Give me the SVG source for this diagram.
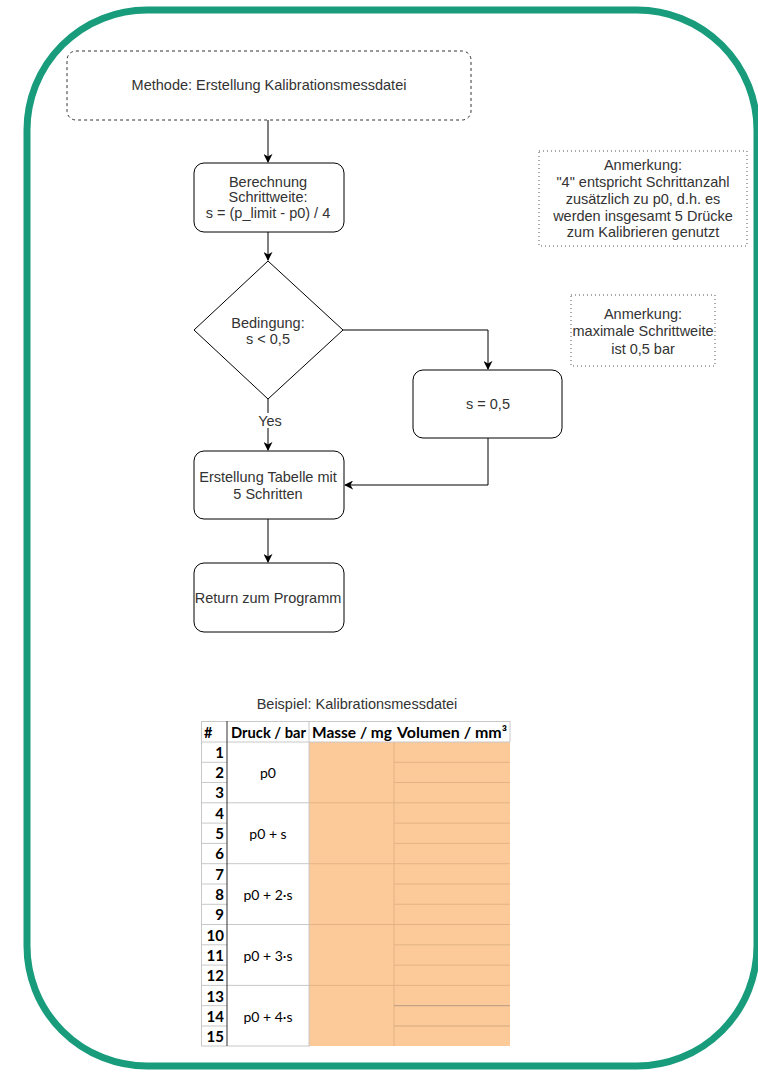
<svg xmlns="http://www.w3.org/2000/svg" width="758" height="1072" viewBox="0 0 758 1072">
  <style>
    .lbl { font-family: "Liberation Sans", Arial, sans-serif; font-size: 14.5px; fill: #333333; text-anchor: middle; }
    .box { fill: #ffffff; stroke: #000000; stroke-width: 1; }
    .note { fill: #ffffff; stroke: #555555; stroke-width: 1; stroke-dasharray: 1 3; }
    .edge { fill: none; stroke: #000000; stroke-width: 1; }
    .th { font-family: Lato, "Open Sans", sans-serif; font-size: 14.5px; font-weight: bold; fill: #000000; }
    .num { font-family: Lato, "Open Sans", sans-serif; font-size: 15px; font-weight: bold; fill: #000000; text-anchor: end; }
    .cell { font-family: Lato, "Open Sans", sans-serif; font-size: 14px; fill: #000000; text-anchor: middle; }
    .grid { stroke: #c8c8c8; stroke-width: 1; }
    .vgrid { stroke: #e2b485; stroke-width: 1; }
  </style>
  <defs>
    <marker id="arrow" viewBox="0 0 10 10" refX="9" refY="5" markerWidth="9" markerHeight="9" markerUnits="userSpaceOnUse" orient="auto">
      <path d="M0,0 L10,5 L0,10 L3,5 z" fill="#000000"/>
    </marker>
  </defs>

  <rect width="758" height="1072" fill="#ffffff"/>

  <!-- outer frame -->
  <rect id="frame" x="27" y="10" width="730" height="1056" rx="120" ry="120" fill="none" stroke="#189c7c" stroke-width="7"/>

  <!-- connectors -->
  <g id="connectors">
    <path class="edge" d="M268,120 L268,162" marker-end="url(#arrow)"/>
    <path class="edge" d="M268,232 L268,260" marker-end="url(#arrow)"/>
    <path class="edge" d="M343,330 L488,330 L488,369" marker-end="url(#arrow)"/>
    <path class="edge" d="M268,399 L268,450" marker-end="url(#arrow)"/>
    <path class="edge" d="M488,438 L488,485 L345,485" marker-end="url(#arrow)"/>
    <path class="edge" d="M268,519 L268,562" marker-end="url(#arrow)"/>
    <rect x="255" y="413" width="28" height="15" fill="#ffffff"/>
    <text class="lbl" x="270" y="426">Yes</text>
  </g>

  <g id="start">
    <rect x="67" y="51" width="404" height="69" rx="9" fill="#ffffff" stroke="#333333" stroke-dasharray="3 3"/>
    <text class="lbl" x="269" y="90">Methode: Erstellung Kalibrationsmessdatei</text>
  </g>

  <g id="calc">
    <rect class="box" x="194" y="163" width="150" height="69" rx="10"/>
    <text class="lbl" x="268" y="187">Berechnung</text>
    <text class="lbl" x="268" y="202">Schrittweite:</text>
    <text class="lbl" x="268" y="218">s = (p_limit - p0) / 4</text>
  </g>

  <g id="decision">
    <path class="box" d="M268,261 L343,330 L268,399 L194,330 Z"/>
    <text class="lbl" x="268" y="328">Bedingung:</text>
    <text class="lbl" x="268" y="344">s &lt; 0,5</text>
  </g>

  <g id="set-s">
    <rect class="box" x="413" y="370" width="149" height="68" rx="10"/>
    <text class="lbl" x="488" y="409">s = 0,5</text>
  </g>

  <g id="table-step">
    <rect class="box" x="194" y="451" width="150" height="68" rx="10"/>
    <text class="lbl" x="268" y="482">Erstellung Tabelle mit</text>
    <text class="lbl" x="268" y="499">5 Schritten</text>
  </g>

  <g id="return">
    <rect class="box" x="194" y="563" width="150" height="69" rx="10"/>
    <text class="lbl" x="268" y="603">Return zum Programm</text>
  </g>

  <g id="note-steps">
    <rect class="note" x="539" y="151" width="208" height="95"/>
    <text class="lbl" x="643" y="170">Anmerkung:</text>
    <text class="lbl" x="643" y="187">"4" entspricht Schrittanzahl</text>
    <text class="lbl" x="643" y="204">zusätzlich zu p0, d.h. es</text>
    <text class="lbl" x="643" y="221">werden insgesamt 5 Drücke</text>
    <text class="lbl" x="643" y="237">zum Kalibrieren genutzt</text>
  </g>

  <g id="note-max">
    <rect class="note" x="571" y="295" width="144" height="71"/>
    <text class="lbl" x="643" y="319">Anmerkung:</text>
    <text class="lbl" x="643" y="336">maximale Schrittweite</text>
    <text class="lbl" x="643" y="354">ist 0,5 bar</text>
  </g>

  <!-- example calibration file -->
  <g id="example">
    <text class="lbl" x="357" y="709">Beispiel: Kalibrationsmessdatei</text>

    <!-- fills -->
    <rect x="201" y="721" width="309" height="325" fill="#ffffff"/>
    <rect x="309" y="742" width="201" height="304" fill="#fcc998"/>

    <!-- volume column row lines -->
    <g class="vgrid">
      <line x1="394" y1="762.3" x2="510" y2="762.3"/>
      <line x1="394" y1="782.5" x2="510" y2="782.5"/>
      <line x1="394" y1="823.1" x2="510" y2="823.1"/>
      <line x1="394" y1="843.4" x2="510" y2="843.4"/>
      <line x1="394" y1="884" x2="510" y2="884"/>
      <line x1="394" y1="904.3" x2="510" y2="904.3"/>
      <line x1="394" y1="944.8" x2="510" y2="944.8"/>
      <line x1="394" y1="965.1" x2="510" y2="965.1"/>
      <line x1="309" y1="802.8" x2="510" y2="802.8"/>
      <line x1="309" y1="863.7" x2="510" y2="863.7"/>
      <line x1="309" y1="924.5" x2="510" y2="924.5"/>
      <line x1="309" y1="985.4" x2="510" y2="985.4"/>
      <line x1="394" y1="742" x2="394" y2="1046"/>
    </g>
    <line x1="394" y1="1005.7" x2="510" y2="1005.7" stroke="#b49a84"/>
    <line x1="394" y1="1026" x2="510" y2="1026" stroke="#d4aa80"/>

    <!-- grid lines -->
    <g class="grid">
      <line x1="201" y1="721.5" x2="510" y2="721.5"/>
      <line x1="201" y1="742" x2="510" y2="742"/>
      <line x1="201" y1="1046" x2="310" y2="1046"/>
      <line x1="201.5" y1="721" x2="201.5" y2="1046"/>
      <line x1="309" y1="721" x2="309" y2="1046"/>
      <line x1="510" y1="721" x2="510" y2="742"/>
      <line x1="227" y1="802.8" x2="309" y2="802.8"/>
      <line x1="227" y1="863.7" x2="309" y2="863.7"/>
      <line x1="227" y1="924.5" x2="309" y2="924.5"/>
      <line x1="227" y1="985.4" x2="309" y2="985.4"/>
      <line x1="201" y1="762.3" x2="227" y2="762.3"/>
      <line x1="201" y1="782.5" x2="227" y2="782.5"/>
      <line x1="201" y1="802.8" x2="227" y2="802.8"/>
      <line x1="201" y1="823.1" x2="227" y2="823.1"/>
      <line x1="201" y1="843.4" x2="227" y2="843.4"/>
      <line x1="201" y1="863.7" x2="227" y2="863.7"/>
      <line x1="201" y1="884" x2="227" y2="884"/>
      <line x1="201" y1="904.3" x2="227" y2="904.3"/>
      <line x1="201" y1="924.5" x2="227" y2="924.5"/>
      <line x1="201" y1="944.8" x2="227" y2="944.8"/>
      <line x1="201" y1="965.1" x2="227" y2="965.1"/>
      <line x1="201" y1="985.4" x2="227" y2="985.4"/>
      <line x1="201" y1="1005.7" x2="227" y2="1005.7"/>
      <line x1="201" y1="1026" x2="227" y2="1026"/>
    </g>
    <line x1="227" y1="721" x2="227" y2="1046" stroke="#333333"/>

    <!-- header -->
    <text class="th" x="204" y="738">#</text>
    <text class="th" x="231" y="738" textLength="75" lengthAdjust="spacingAndGlyphs">Druck / bar</text>
    <text class="th" x="312" y="738" textLength="80" lengthAdjust="spacingAndGlyphs">Masse / mg</text>
    <text class="th" x="397" y="738" textLength="110" lengthAdjust="spacingAndGlyphs">Volumen / mm³</text>

    <!-- row numbers -->
    <text class="num" x="224" y="758">1</text>
    <text class="num" x="224" y="778">2</text>
    <text class="num" x="224" y="798">3</text>
    <text class="num" x="224" y="819">4</text>
    <text class="num" x="224" y="839">5</text>
    <text class="num" x="224" y="859">6</text>
    <text class="num" x="224" y="880">7</text>
    <text class="num" x="224" y="900">8</text>
    <text class="num" x="224" y="920">9</text>
    <text class="num" x="224" y="941">10</text>
    <text class="num" x="224" y="961">11</text>
    <text class="num" x="224" y="981">12</text>
    <text class="num" x="224" y="1002">13</text>
    <text class="num" x="224" y="1022">14</text>
    <text class="num" x="224" y="1042">15</text>

    <!-- pressure levels -->
    <text class="cell" x="268" y="778">p0</text>
    <text class="cell" x="268" y="839">p0 + s</text>
    <text class="cell" x="268" y="900">p0 + 2·s</text>
    <text class="cell" x="268" y="961">p0 + 3·s</text>
    <text class="cell" x="268" y="1022">p0 + 4·s</text>
  </g>
</svg>
